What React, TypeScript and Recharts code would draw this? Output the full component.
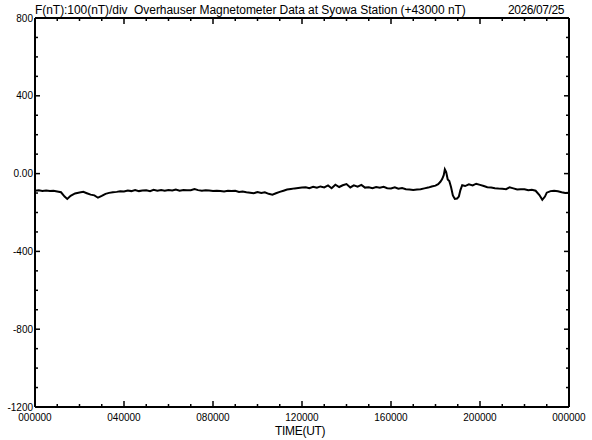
import React from "react";
import { LineChart, Line, XAxis, YAxis } from "recharts";

// time of day in hours (UT) and total field F minus 43000 nT
const timeH = [
  0, 0.17, 0.33, 0.5, 0.67, 0.83,
  1, 1.17, 1.33, 1.45, 1.6, 1.8,
  2, 2.17, 2.33, 2.5, 2.67, 2.83,
  3, 3.17, 3.33, 3.5, 3.67, 3.83,
  4, 4.17, 4.33, 4.5, 4.67, 4.83,
  5, 5.17, 5.33, 5.5, 5.67, 5.83,
  6, 6.17, 6.33, 6.5, 6.67, 6.83,
  7, 7.17, 7.33, 7.5, 7.67, 7.83,
  8, 8.17, 8.33, 8.5, 8.67, 8.83,
  9, 9.17, 9.33, 9.5, 9.67, 9.83,
  10, 10.17, 10.33, 10.5, 10.67, 10.83,
  11, 11.17, 11.33, 11.5, 11.67, 11.83,
  12, 12.17, 12.33, 12.5, 12.67, 12.83,
  13, 13.17, 13.33, 13.5, 13.67, 13.83,
  14, 14.17, 14.33, 14.5, 14.67, 14.83,
  15, 15.17, 15.33, 15.5, 15.67, 15.83,
  16, 16.17, 16.33, 16.5, 16.67, 16.83,
  17, 17.17, 17.33, 17.5, 17.67, 17.83,
  18, 18.12, 18.22, 18.3, 18.37, 18.42, 18.48, 18.55, 18.62, 18.7, 18.78, 18.87, 18.97, 19.05, 19.12,
  19.2, 19.33, 19.5, 19.67, 19.83,
  20, 20.17, 20.33, 20.5, 20.67, 20.83,
  21, 21.17, 21.33, 21.5, 21.67, 21.83,
  22, 22.17, 22.33, 22.5, 22.67, 22.8, 22.92,
  23, 23.17, 23.33, 23.5, 23.67, 23.83, 24,
];

const fieldNT = [
  -88, -86, -89, -87, -90, -88,
  -92, -96, -118, -130, -114, -102,
  -97, -94, -101, -108, -112, -124,
  -115, -104, -99, -96, -94, -91,
  -92, -87, -90, -85, -90, -87,
  -86, -90, -83, -88, -85, -88,
  -84, -87, -82, -88, -84, -86,
  -86, -80, -85, -88, -86, -87,
  -90, -88, -89, -92, -88, -90,
  -88, -94, -92, -96, -98, -101,
  -95, -100, -96, -104, -108, -101,
  -94, -88, -82, -79, -76, -74,
  -72, -70, -75, -68, -73, -66,
  -71, -61, -75, -57, -69, -60,
  -54, -71, -60, -67, -58, -72,
  -70, -75, -69, -73, -68, -75,
  -76, -70, -78, -74, -80, -82,
  -84, -82, -80, -76, -72, -66,
  -62, -54, -42, -28, -8, 22, 8, -30, -38, -70, -112, -130, -128, -118, -85,
  -60, -64, -55, -61, -52,
  -58, -64, -70, -72, -75, -77,
  -78, -80, -70, -76, -82, -80,
  -80, -85, -83, -88, -110, -135, -118,
  -98, -90, -88, -91, -96, -100, -98,
];

const xTicks = [
  0, 1, 2, 3, 4, 5, 6, 7, 8, 9, 10, 11, 12,
  13, 14, 15, 16, 17, 18, 19, 20, 21, 22, 23, 24,
];
const xLabels: Record<number, string> = {
  0: "000000",
  4: "040000",
  8: "080000",
  12: "120000",
  16: "160000",
  20: "200000",
  24: "000000",
};

const yTicks = [
  -1200, -1100, -1000, -900, -800, -700, -600, -500, -400, -300, -200,
  -100, 0, 100, 200, 300, 400, 500, 600, 700, 800,
];
const yLabels: Record<number, string> = {
  800: "800",
  400: "400",
  0: "0.00",
  "-400": "-400",
  "-800": "-800",
  "-1200": "-1200",
};

const data = timeH.map((t, i) => ({ t, f: fieldNT[i] }));

const tickFont = { fontFamily: "Liberation Sans, Arial, sans-serif", fontSize: 10 };

function BottomTick(props: any) {
  const { x, y, payload } = props;
  const label = xLabels[payload.value];
  return (
    <g>
      <line x1={x} x2={x} y1={y} y2={y - (label ? 6 : 3)} stroke="#000" strokeWidth={1.5} />
      {label && (
        <text x={x} y={y + 14} textAnchor="middle" fill="#000" {...tickFont}>
          {label}
        </text>
      )}
    </g>
  );
}

function TopTick(props: any) {
  const { x, y, payload } = props;
  const major = xLabels[payload.value] !== undefined;
  return <line x1={x} x2={x} y1={y} y2={y + (major ? 6 : 3)} stroke="#000" strokeWidth={1.5} />;
}

function LeftTick(props: any) {
  const { x, y, payload } = props;
  const label = yLabels[payload.value];
  return (
    <g>
      <line x1={x} x2={x + (label ? 5 : 3)} y1={y} y2={y} stroke="#000" strokeWidth={1.5} />
      {label && (
        <text x={x - 2} y={y + 3.5} textAnchor="end" fill="#000" {...tickFont}>
          {label}
        </text>
      )}
    </g>
  );
}

function RightTick(props: any) {
  const { x, y, payload } = props;
  const major = yLabels[payload.value] !== undefined;
  return <line x1={x} x2={x - (major ? 5 : 3)} y1={y} y2={y} stroke="#000" strokeWidth={1.5} />;
}

const textStyle: React.CSSProperties = {
  position: "absolute",
  fontFamily: "Liberation Sans, Arial, sans-serif",
  fontSize: 12,
  color: "#000",
  whiteSpace: "pre",
  lineHeight: "12px",
};

export default function App() {
  const axisLine = { stroke: "#000", strokeWidth: 2 };
  return (
    <div style={{ position: "absolute", left: 0, top: 0, width: 592, height: 440, background: "#fff" }}>
      <div style={{ ...textStyle, left: 35, top: 4, letterSpacing: -0.05 }}>
        {"F(nT):100(nT)/div  Overhauser Magnetometer Data at Syowa Station (+43000 nT)"}
      </div>
      <div style={{ ...textStyle, left: 508, top: 4, letterSpacing: -0.4 }}>2026/07/25</div>
      <div style={{ ...textStyle, left: 275, top: 425, letterSpacing: -0.3 }}>TIME(UT)</div>
      <LineChart
        width={592}
        height={440}
        data={data}
        margin={{ top: 17, right: 22, bottom: 32, left: 34 }}
      >
        <XAxis
          dataKey="t"
          type="number"
          domain={[0, 24]}
          ticks={xTicks}
          interval={0}
          height={1}
          tickSize={0}
          tickMargin={0}
          tickLine={false}
          axisLine={axisLine}
          tick={<BottomTick />}
        />
        <XAxis
          xAxisId="top"
          orientation="top"
          dataKey="t"
          type="number"
          domain={[0, 24]}
          ticks={xTicks}
          interval={0}
          height={1}
          tickSize={0}
          tickMargin={0}
          tickLine={false}
          axisLine={axisLine}
          tick={<TopTick />}
        />
        <YAxis
          type="number"
          domain={[-1200, 800]}
          ticks={yTicks}
          interval={0}
          width={1}
          tickSize={0}
          tickMargin={0}
          tickLine={false}
          axisLine={axisLine}
          tick={<LeftTick />}
          allowDataOverflow
        />
        <YAxis
          yAxisId="right"
          orientation="right"
          type="number"
          domain={[-1200, 800]}
          ticks={yTicks}
          interval={0}
          width={1}
          tickSize={0}
          tickMargin={0}
          tickLine={false}
          axisLine={axisLine}
          tick={<RightTick />}
          allowDataOverflow
        />
        <Line
          dataKey="f"
          type="linear"
          stroke="#000"
          strokeWidth={2}
          dot={false}
          isAnimationActive={false}
        />
      </LineChart>
    </div>
  );
}
